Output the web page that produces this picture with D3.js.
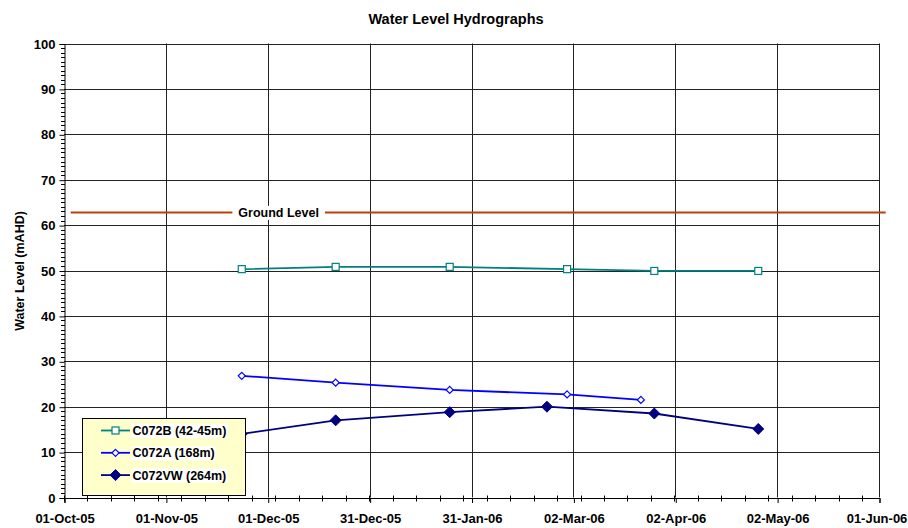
<!DOCTYPE html>
<html><head><meta charset="utf-8">
<script src="https://cdn.jsdelivr.net/npm/d3@7"></script>
<style>body{margin:0;background:#fff}svg{display:block;font-family:"Liberation Sans",Arial,sans-serif}</style>
</head><body><div id="chart"></div>
<script>
const xTickLabels = ["01-Oct-05","01-Nov-05","01-Dec-05","31-Dec-05","31-Jan-06","02-Mar-06","02-Apr-06","02-May-06","01-Jun-06"];
const yTicks = [0,10,20,30,40,50,60,70,80,90,100];
const seriesNames = ["C072B (42-45m)","C072A (168m)","C072VW (264m)"];
const datesB = ["2005-11-23","2005-12-21","2006-01-24","2006-02-28","2006-03-26","2006-04-26"];
const valuesB = [50.3,50.8,50.8,50.3,49.9,49.9];
const datesA = ["2005-11-23","2005-12-21","2006-01-24","2006-02-28","2006-03-22"];
const valuesA = [26.8,25.3,23.7,22.7,21.5];
const datesVW = ["2005-11-23","2005-12-21","2006-01-24","2006-02-22","2006-03-26","2006-04-26"];
const valuesVW = [14.0,17.0,18.8,20.0,18.5,15.1];
const groundDates = ["2005-10-03","2006-06-03"];
const groundValue = 62.8;
const groundLabel = "Ground Level";

const W=908,H=528, L=64, R=879, T=43.5, B=497.5;
const parse = d3.utcParse("%Y-%m-%d");
const d0 = parse("2005-10-01"), d1 = parse("2006-06-01");
const x = d3.scaleUtc().domain([d0,d1]).range([L,R]);
const y = d3.scaleLinear().domain([0,100]).range([B,T]);

const svg = d3.select("#chart").append("svg").attr("width",W).attr("height",H);
svg.append("text").attr("x",456).attr("y",24).attr("text-anchor","middle")
  .attr("font-size",14.5).attr("font-weight","bold").text("Water Level Hydrographs");

const span = d1 - d0;
const majorDates = xTickLabels.map((_,i)=> new Date(+d0 + span*i/(xTickLabels.length-1)));
const g = svg.append("g");
g.selectAll("line.hg").data(yTicks.slice(1)).join("line")
  .attr("x1",L).attr("x2",R).attr("y1",d=>Math.round(y(d))+0.5).attr("y2",d=>Math.round(y(d))+0.5)
  .attr("stroke","#222").attr("stroke-width",1);
g.selectAll("line.vg").data(majorDates.slice(1)).join("line")
  .attr("y1",T).attr("y2",B).attr("x1",d=>Math.round(x(d))+0.5).attr("x2",d=>Math.round(x(d))+0.5)
  .attr("stroke","#222").attr("stroke-width",1);

const yAxis = d3.axisLeft(y).tickValues(yTicks).tickSize(5).tickPadding(4);
const ya = svg.append("g").attr("transform",`translate(${L+0.5},0.5)`).call(yAxis);
ya.select(".domain").attr("stroke","#000");
ya.selectAll("text").attr("font-size",13).attr("font-weight","bold").attr("font-family","Liberation Sans, Arial").attr("fill","#000");
const yMinor = d3.range(0,101,1).filter(v=>v%10!==0);
svg.append("g").selectAll("line").data(yMinor).join("line")
  .attr("x1",L-3).attr("x2",L+1).attr("y1",d=>Math.round(y(d))+0.5).attr("y2",d=>Math.round(y(d))+0.5)
  .attr("stroke","#000");

const xAxis = d3.axisBottom(x).tickValues(majorDates).tickFormat((d,i)=>xTickLabels[i]).tickSize(5).tickPadding(11);
const xa = svg.append("g").attr("transform",`translate(0.5,${B+0.5})`).call(xAxis);
xa.select(".domain").attr("stroke","#000");
xa.selectAll("text").attr("font-size",13).attr("font-weight","bold").attr("font-family","Liberation Sans, Arial").attr("fill","#000");
xa.selectAll(".tick").filter((d,i)=>i===xTickLabels.length-1).select("text").attr("dx",-3);
const minorDates = d3.range(0, 244, 7).map(k=>d3.utcDay.offset(d0,k));
svg.append("g").selectAll("line").data(minorDates).join("line")
  .attr("x1",d=>Math.round(x(d))+0.5).attr("x2",d=>Math.round(x(d))+0.5).attr("y1",B-2).attr("y2",B+4)
  .attr("stroke","#000");

// ground level
const gl = groundDates.map(parse);
svg.append("line").attr("x1",x(gl[0])).attr("x2",x(gl[1])).attr("y1",y(groundValue)).attr("y2",y(groundValue))
  .attr("stroke","#B5410E").attr("stroke-width",2);
const glX = x(parse("2005-12-04"));
const glRect = svg.append("rect").attr("fill","#fff");
const glText = svg.append("text").attr("x",glX).attr("y",y(groundValue)+4.5).attr("text-anchor","middle")
  .attr("font-size",12.5).attr("font-weight","bold").text(groundLabel);
const bb = glText.node().getBBox();
glRect.attr("x",bb.x-6).attr("y",bb.y).attr("width",bb.width+12).attr("height",bb.height);

const series = [
  {name:seriesNames[0], dates:datesB, values:valuesB, color:"#008080", marker:"square"},
  {name:seriesNames[1], dates:datesA, values:valuesA, color:"#0000FF", marker:"odiamond"},
  {name:seriesNames[2], dates:datesVW, values:valuesVW, color:"#000080", marker:"fdiamond"}
];
function drawMarker(sel, m, color){
  if(m==="square") sel.append("rect").attr("x",-3.5).attr("y",-3.5).attr("width",7).attr("height",7).attr("fill","#fff").attr("stroke",color).attr("stroke-width",1.2);
  else if(m==="odiamond") sel.append("path").attr("d","M0,-3.5L3.5,0L0,3.5L-3.5,0Z").attr("fill","#fff").attr("stroke",color).attr("stroke-width",1.2);
  else sel.append("path").attr("d","M0,-5.5L5.5,0L0,5.5L-5.5,0Z").attr("fill",color).attr("stroke",color);
}
const line = d3.line().x(d=>x(d[0])).y(d=>y(d[1]));
series.forEach(s=>{
  const pts = s.dates.map((d,i)=>[parse(d), s.values[i]]);
  svg.append("path").datum(pts).attr("d",line).attr("fill","none").attr("stroke",s.color).attr("stroke-width",1.8);
  pts.forEach(p=>{
    const gm = svg.append("g").attr("transform",`translate(${x(p[0])},${y(p[1])})`);
    drawMarker(gm, s.marker, s.color);
  });
});

// legend
const lg = svg.append("g");
lg.append("rect").attr("x",82.5).attr("y",418.5).attr("width",163).attr("height",77).attr("fill","#FFFFCC").attr("stroke","#000").attr("stroke-width",1);
series.forEach((s,i)=>{
  const yy = 430.5 + i*22.3;
  lg.append("line").attr("x1",101).attr("x2",130).attr("y1",yy).attr("y2",yy).attr("stroke",s.color).attr("stroke-width",1.8);
  const gm = lg.append("g").attr("transform",`translate(115.5,${yy})`);
  drawMarker(gm, s.marker, s.color);
  const r = lg.append("rect").attr("fill","#fff");
  const t = lg.append("text").attr("x",132.5).attr("y",yy+4.5).attr("font-size",12.5).attr("font-weight","bold").text(s.name);
  const b = t.node().getBBox();
  r.attr("x",b.x-1).attr("y",b.y).attr("width",b.width+2).attr("height",b.height);
});

svg.append("text").attr("transform","translate(24,271) rotate(-90)").attr("text-anchor","middle")
  .attr("font-size",12.5).attr("font-weight","bold").text("Water Level (mAHD)");
</script></body></html>
